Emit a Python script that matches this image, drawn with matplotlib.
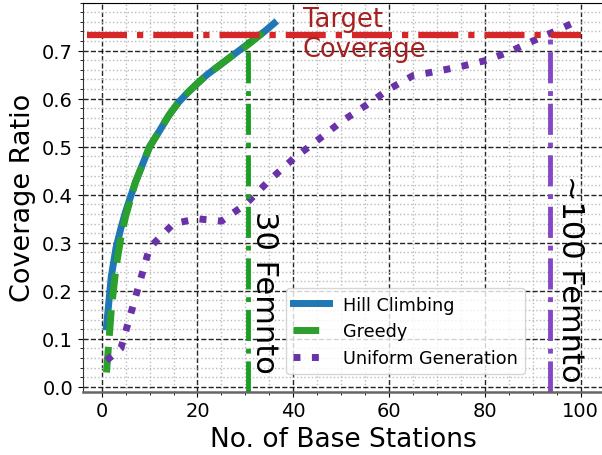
# -*- coding:utf-8 -*-
# coverage ratio vs number of base stations

import matplotlib
matplotlib.use("Agg")
import matplotlib.pyplot as plt

plt.rcParams["font.family"] = ["DejaVu Sans"]

# Hill Climbing
hc_x = [1, 2, 3, 4, 5, 6, 7, 8, 9, 10, 12, 14, 16, 18, 20, 22, 24, 26, 28, 30, 32, 34, 36]
hc_y = [0.125, 0.23, 0.29, 0.33, 0.365, 0.395, 0.425, 0.45, 0.475, 0.50, 0.532, 0.565,
        0.592, 0.613, 0.632, 0.65, 0.665, 0.68, 0.695, 0.71, 0.725, 0.74, 0.757]

# Greedy
gr_x = [1, 2, 3, 4, 5, 6, 7, 8, 9, 10, 12, 14, 16, 18, 20, 22, 24, 26, 28, 30, 32, 34, 35]
gr_y = [0.03, 0.16, 0.25, 0.31, 0.355, 0.39, 0.425, 0.45, 0.475, 0.50, 0.532, 0.565,
        0.592, 0.613, 0.632, 0.65, 0.665, 0.68, 0.695, 0.708, 0.724, 0.74, 0.749]

# Uniform Generation
ug_x = [1, 4, 10, 15, 20, 25, 30, 35, 40, 45, 50, 55, 60, 65, 70, 75, 80, 85, 90, 95, 100]
ug_y = [0.055, 0.08, 0.29, 0.34, 0.35, 0.345, 0.38, 0.43, 0.475, 0.513, 0.552, 0.585,
        0.62, 0.648, 0.657, 0.667, 0.679, 0.697, 0.72, 0.742, 0.765]

target = 0.733
femto_greedy = 30.5
femto_uniform = 93.6

fig = plt.figure(figsize=(6.02, 4.56), dpi=100)
ax = fig.add_axes([0.1375, 0.1388, 0.8665, 0.8533])

ax.plot(hc_x, hc_y, color="#1f77b4", lw=5, label="Hill Climbing")
ax.plot(gr_x, gr_y, color="#2ca02c", lw=5, ls="--", label="Greedy")
ax.plot(ug_x, ug_y, color="#6a32a8", lw=5, ls=":", label="Uniform Generation")

ax.plot([-3, 100], [target, target], color="#d62728", lw=4.5, ls="-.")
ax.text(42, 0.734, "Target\nCoverage", color="#a52020", fontsize=18.5,
        ha="left", va="center", multialignment="left")

ax.plot([femto_greedy, femto_greedy], [-0.01, target], color="#1a9e24", lw=3.5, ls="-.")
ax.plot([femto_uniform, femto_uniform], [-0.01, target], color="#8646c8", lw=3.5, ls="-.")
ax.text(34, 0.199, "30 Femnto", rotation=-90, fontsize=22, ha="center", va="center")
ax.text(97.8, 0.228, "~100 Femnto", rotation=-90, fontsize=22, ha="center", va="center")

ax.set_xlim(-3.95, 104.95)
ax.set_ylim(-0.01, 0.80)
ax.set_xticks([0, 20, 40, 60, 80, 100])
ax.set_yticks([0.0, 0.1, 0.2, 0.3, 0.4, 0.5, 0.6, 0.7])
ax.minorticks_on()
ax.grid(which="major", color="k", ls="--", lw=1, alpha=0.85)
ax.grid(which="minor", color="#bbbbbb", ls=":", lw=1)
ax.set_axisbelow(True)
ax.tick_params(labelsize=14)

ax.spines["bottom"].set_color("#666666")
ax.spines["bottom"].set_linewidth(1.8)
ax.spines["left"].set_color("#333333")

ax.set_xlabel("No. of Base Stations", fontsize=19)
ax.set_ylabel("Coverage Ratio", fontsize=19.5)

ax.legend(loc="lower left", bbox_to_anchor=(0.39, 0.045), borderaxespad=0, fontsize=12.7)

fig.savefig("out.png", dpi=100)
